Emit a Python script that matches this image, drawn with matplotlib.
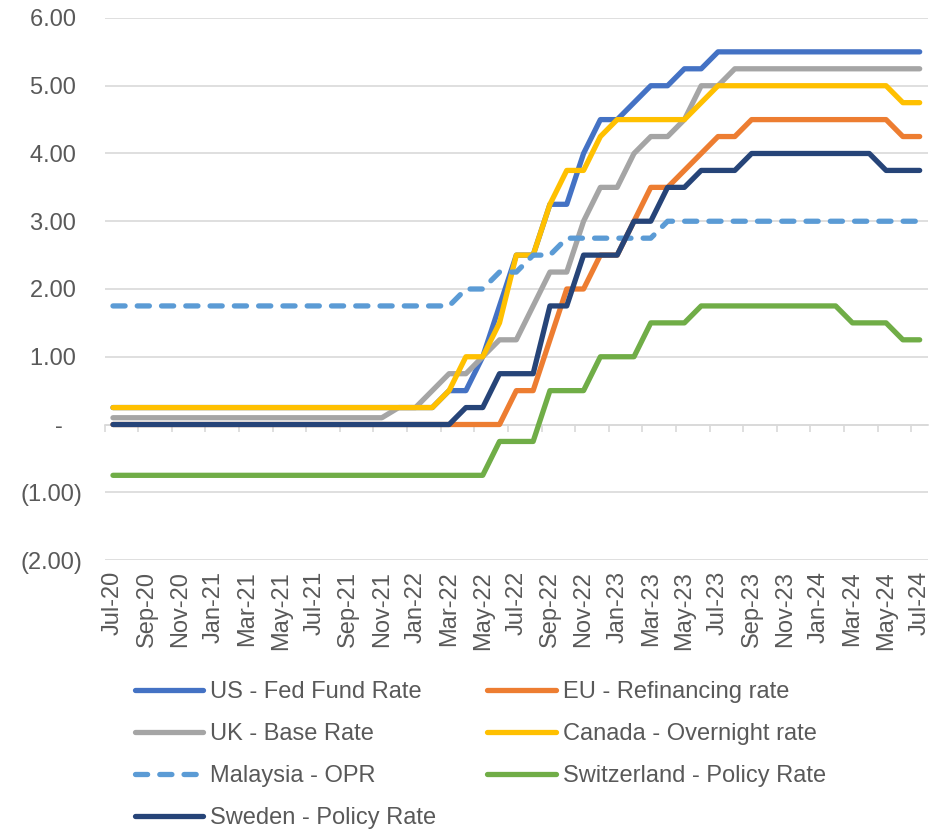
import numpy as np
import pandas as pd
import matplotlib
matplotlib.use('Agg')
import matplotlib.pyplot as plt
from matplotlib.ticker import FuncFormatter, FixedLocator

plt.rcParams['font.family'] = ['Liberation Sans', 'DejaVu Sans']

# monthly categories Jul-20 .. Jul-24
months = list(pd.date_range('2020-07-01', '2024-07-01', freq='MS').strftime('%b-%y'))

us = [0.25, 0.25, 0.25, 0.25, 0.25, 0.25, 0.25, 0.25, 0.25, 0.25,
      0.25, 0.25, 0.25, 0.25, 0.25, 0.25, 0.25, 0.25, 0.25, 0.25,
      0.5, 0.5, 1.0, 1.75, 2.5, 2.5, 3.25, 3.25, 4.0, 4.5,
      4.5, 4.75, 5.0, 5.0, 5.25, 5.25, 5.5, 5.5, 5.5, 5.5,
      5.5, 5.5, 5.5, 5.5, 5.5, 5.5, 5.5, 5.5, 5.5]
eu = [0, 0, 0, 0, 0, 0, 0, 0, 0, 0,
      0, 0, 0, 0, 0, 0, 0, 0, 0, 0,
      0, 0, 0, 0, 0.5, 0.5, 1.25, 2.0, 2.0, 2.5,
      2.5, 3.0, 3.5, 3.5, 3.75, 4.0, 4.25, 4.25, 4.5, 4.5,
      4.5, 4.5, 4.5, 4.5, 4.5, 4.5, 4.5, 4.25, 4.25]
uk = [0.1, 0.1, 0.1, 0.1, 0.1, 0.1, 0.1, 0.1, 0.1, 0.1,
      0.1, 0.1, 0.1, 0.1, 0.1, 0.1, 0.1, 0.25, 0.25, 0.5,
      0.75, 0.75, 1.0, 1.25, 1.25, 1.75, 2.25, 2.25, 3.0, 3.5,
      3.5, 4.0, 4.25, 4.25, 4.5, 5.0, 5.0, 5.25, 5.25, 5.25,
      5.25, 5.25, 5.25, 5.25, 5.25, 5.25, 5.25, 5.25, 5.25]
canada = [0.25, 0.25, 0.25, 0.25, 0.25, 0.25, 0.25, 0.25, 0.25, 0.25,
          0.25, 0.25, 0.25, 0.25, 0.25, 0.25, 0.25, 0.25, 0.25, 0.25,
          0.5, 1.0, 1.0, 1.5, 2.5, 2.5, 3.25, 3.75, 3.75, 4.25,
          4.5, 4.5, 4.5, 4.5, 4.5, 4.75, 5.0, 5.0, 5.0, 5.0,
          5.0, 5.0, 5.0, 5.0, 5.0, 5.0, 5.0, 4.75, 4.75]
malaysia = [1.75, 1.75, 1.75, 1.75, 1.75, 1.75, 1.75, 1.75, 1.75, 1.75,
            1.75, 1.75, 1.75, 1.75, 1.75, 1.75, 1.75, 1.75, 1.75, 1.75,
            1.75, 2.0, 2.0, 2.25, 2.25, 2.5, 2.5, 2.75, 2.75, 2.75,
            2.75, 2.75, 2.75, 3.0, 3.0, 3.0, 3.0, 3.0, 3.0, 3.0,
            3.0, 3.0, 3.0, 3.0, 3.0, 3.0, 3.0, 3.0, 3.0]
swiss = [-0.75, -0.75, -0.75, -0.75, -0.75, -0.75, -0.75, -0.75, -0.75, -0.75,
         -0.75, -0.75, -0.75, -0.75, -0.75, -0.75, -0.75, -0.75, -0.75, -0.75,
         -0.75, -0.75, -0.75, -0.25, -0.25, -0.25, 0.5, 0.5, 0.5, 1.0,
         1.0, 1.0, 1.5, 1.5, 1.5, 1.75, 1.75, 1.75, 1.75, 1.75,
         1.75, 1.75, 1.75, 1.75, 1.5, 1.5, 1.5, 1.25, 1.25]
sweden = [0, 0, 0, 0, 0, 0, 0, 0, 0, 0,
          0, 0, 0, 0, 0, 0, 0, 0, 0, 0,
          0, 0.25, 0.25, 0.75, 0.75, 0.75, 1.75, 1.75, 2.5, 2.5,
          2.5, 3.0, 3.0, 3.5, 3.5, 3.75, 3.75, 3.75, 4.0, 4.0,
          4.0, 4.0, 4.0, 4.0, 4.0, 4.0, 3.75, 3.75, 3.75]

series = [
    ('US - Fed Fund Rate', us, '#4472C4', '-'),
    ('EU - Refinancing rate', eu, '#ED7D31', '-'),
    ('UK - Base Rate', uk, '#A5A5A5', '-'),
    ('Canada - Overnight rate', canada, '#FFC000', '-'),
    ('Malaysia - OPR', malaysia, '#5B9BD5', '--'),
    ('Switzerland - Policy Rate', swiss, '#70AD47', '-'),
    ('Sweden - Policy Rate', sweden, '#264478', '-'),
]

txt = '#595959'
grid = '#D9D9D9'
fs = 17

fig = plt.figure(figsize=(9.48, 8.32), dpi=100)
ax = fig.add_axes([0.1103, 0.3269, 0.979 - 0.1103, 0.9784 - 0.3269])

x = np.arange(len(months))
handles = {}
for name, vals, col, ls in series:
    ln, = ax.plot(x, vals, color=col, lw=3.8, solid_capstyle='round',
                  solid_joinstyle='round', dash_capstyle='round',
                  dash_joinstyle='round', label=name, zorder=3)
    if ls == '--':
        ln.set_dashes((2.3, 2.3))
    handles[name] = ln

ax.set_xlim(-0.5, len(months) - 0.5)
ax.set_ylim(-2, 6)
ax.set_yticks(np.arange(-2, 7, 1))


def acct(v, pos):
    if abs(v) < 1e-9:
        return '-   '
    if v < 0:
        return '(%.2f)' % abs(v)
    return '%.2f ' % v


ax.yaxis.set_major_formatter(FuncFormatter(acct))
ax.tick_params(axis='y', length=0, pad=16, labelsize=fs, labelcolor=txt)
ax.grid(axis='y', color=grid, lw=1.2, zorder=1)
ax.set_axisbelow(True)

for s in ['left', 'right', 'top']:
    ax.spines[s].set_visible(False)
ax.spines['bottom'].set_position(('data', 0))
ax.spines['bottom'].set_color(grid)
ax.spines['bottom'].set_linewidth(1.2)
ax.spines['bottom'].set_zorder(1)

# tick marks between categories on the zero line
ax.xaxis.set_major_locator(FixedLocator(np.arange(-0.5, len(months), 2)))
ax.tick_params(axis='x', which='major', length=5, width=1.2, color=grid,
               labelbottom=False)

# category labels at the bottom of the plot area
sec = ax.secondary_xaxis(0)
sec.set_xticks(x[::2])
sec.set_xticklabels(months[::2], rotation=90)
sec.tick_params(length=0, pad=8, labelsize=fs, labelcolor=txt)
sec.spines['bottom'].set_visible(False)

order = ['US - Fed Fund Rate', 'UK - Base Rate', 'Malaysia - OPR',
         'Sweden - Policy Rate', 'EU - Refinancing rate',
         'Canada - Overnight rate', 'Switzerland - Policy Rate']
leg = fig.legend([handles[n] for n in order], order, loc='upper left',
                 bbox_to_anchor=(0.142, 0.181), ncol=2, frameon=False,
                 fontsize=fs, handlelength=2.9, handletextpad=0.3,
                 columnspacing=2.15, labelspacing=0.84, borderpad=0,
                 borderaxespad=0)
for t in leg.get_texts():
    t.set_color(txt)

fig.savefig('out.png', dpi=100)
